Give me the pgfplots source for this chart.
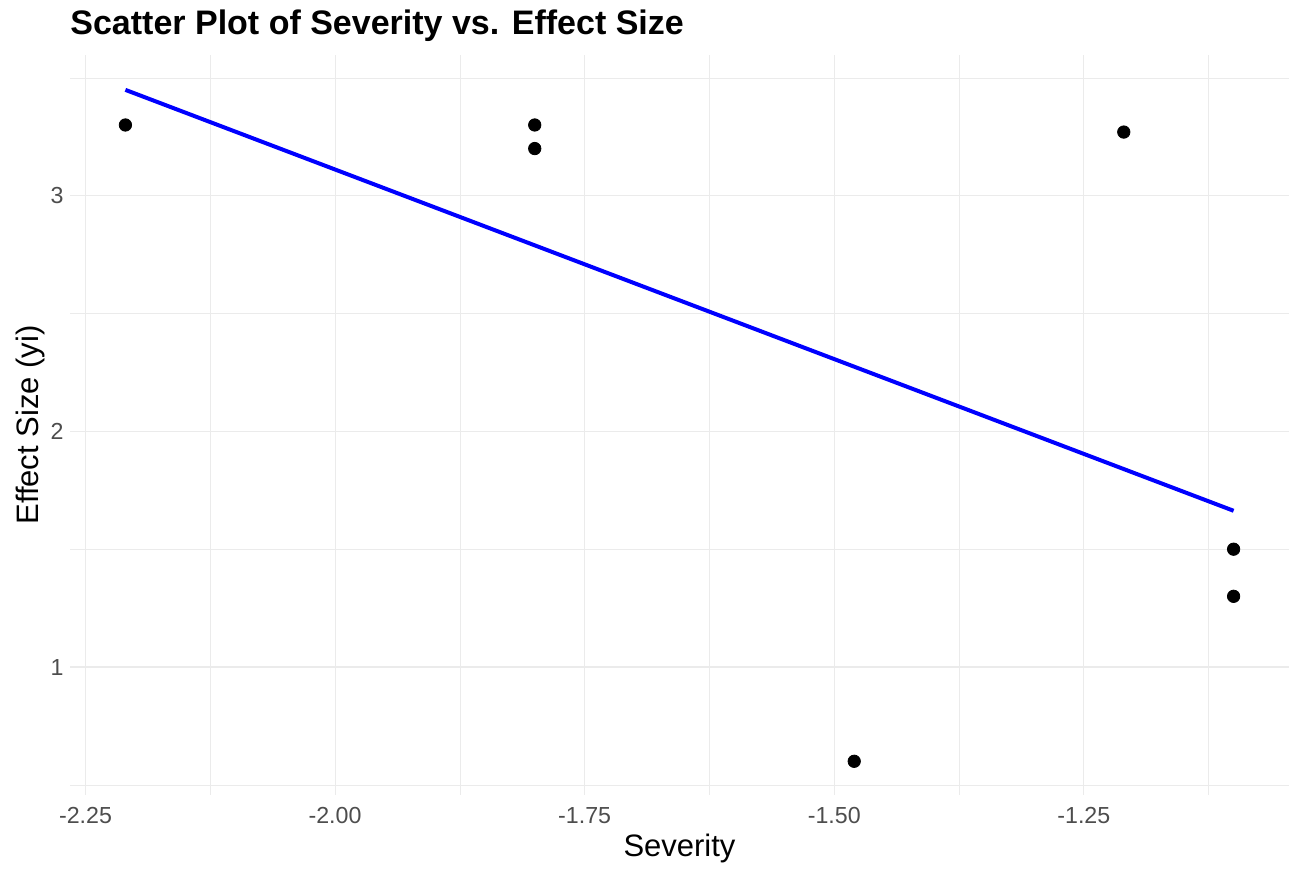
\documentclass[border=0pt]{standalone}
\usepackage{fontspec}
\setmainfont{Liberation Sans}
\usepackage{pgfplots}
\pgfplotsset{compat=1.18}
\definecolor{gridc}{HTML}{EBEBEB}
\definecolor{ticktext}{HTML}{4D4D4D}
\begin{document}
\begin{tikzpicture}
\path[use as bounding box] (0,0) rectangle (649pt,436.5pt);
\begin{axis}[
  at={(35pt,39pt)}, anchor=south west,
  scale only axis, width=609.5pt, height=370pt,
  xmin=-2.2655, xmax=-1.0445, ymin=0.457, ymax=3.597,
  axis line style={draw=none},
  major tick length=0pt, minor tick length=0pt,
  xtick={-2.25,-2,-1.75,-1.5,-1.25},
  xticklabels={-2.25,-2.00,-1.75,-1.50,-1.25},
  ytick={1,2,3}, yticklabels={1,2,3},
  minor xtick={-2.125,-1.875,-1.625,-1.375,-1.125},
  minor ytick={0.5,1.5,2.5,3.5},
  grid=both,
  major grid style={draw=gridc, line width=0.55pt},
  minor grid style={draw=gridc, line width=0.35pt},
  tick label style={font=\fontsize{11.6}{13}\selectfont, text=ticktext, inner sep=0pt},
  xticklabel style={anchor=base, yshift=-14.5pt},
  yticklabel style={anchor=east, xshift=-3pt},
  xlabel={Severity}, ylabel={Effect Size (yi)},
  label style={font=\fontsize{15.5}{18}\selectfont, inner sep=0pt},
  xlabel style={at={(axis description cs:0.5,0)}, anchor=base, yshift=-31pt},
  ylabel style={at={(axis description cs:-0.0262,0.5)}, anchor=base},
  title={Scatter Plot of Severity vs. Effect Size},
  title style={at={(axis description cs:0,1)}, anchor=base west, yshift=4pt, font=\bfseries\fontsize{17}{20}\selectfont, inner sep=0pt},
  clip=false,
]
\addplot[only marks, mark=*, mark size=3.1pt, black] coordinates {
  (-2.21,3.30) (-1.80,3.30) (-1.80,3.20) (-1.48,0.60) (-1.21,3.27) (-1.10,1.50) (-1.10,1.30)
};
\addplot[blue, line width=2pt] coordinates {(-2.21,3.449) (-1.10,1.663)};
\end{axis}
\end{tikzpicture}
\end{document}
